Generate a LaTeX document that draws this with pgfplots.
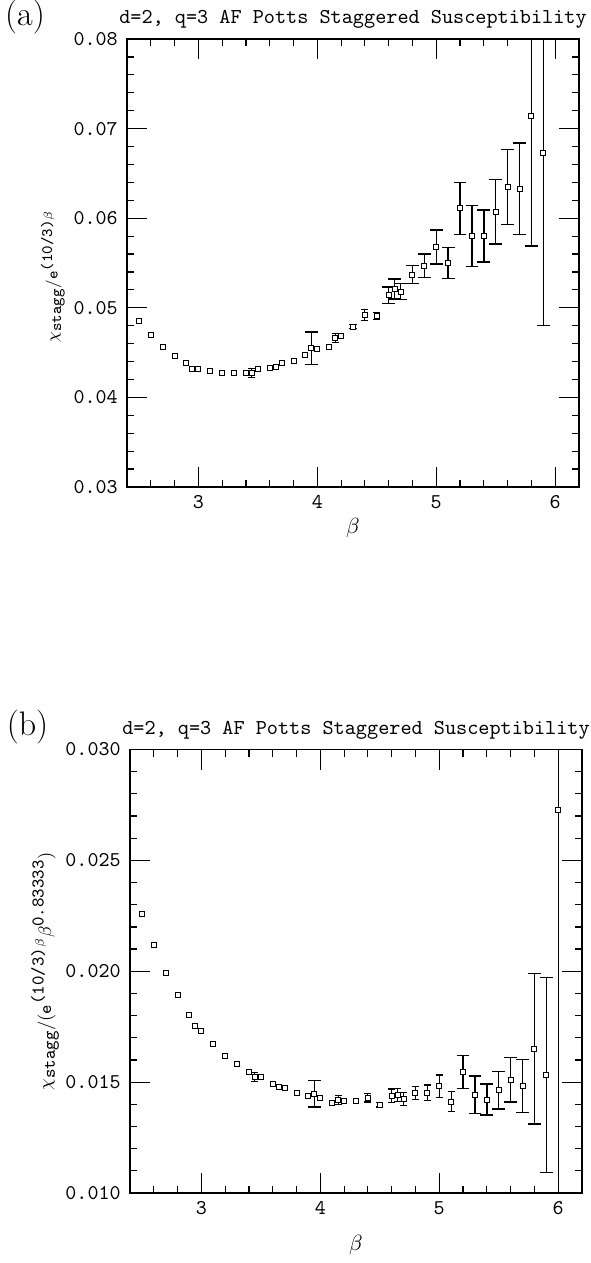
\documentclass[border=0pt]{standalone}
\usepackage{fontspec}
\usepackage{pgfplots}
\usepackage{pgfplotstable}
\pgfplotsset{compat=1.18}

% beta, chi_stagg / e^{(10/3)beta}, error
\pgfplotstableread{
b     chi     e
2.5   0.0485  0
2.6   0.0470  0
2.7   0.0456  0
2.8   0.0446  0
2.9   0.0438  0
2.95  0.0432  0
3.0   0.0432  0
3.1   0.0429  0
3.2   0.0427  0
3.3   0.0427  0
3.4   0.0427  0
3.45  0.0427  0.0005
3.5   0.0432  0
3.6   0.0433  0
3.65  0.0434  0
3.7   0.0438  0
3.8   0.0441  0
3.9   0.0447  0
3.95  0.0455  0.0018
4.0   0.0454  0
4.1   0.0456  0
4.15  0.0466  0.0005
4.2   0.0468  0
4.3   0.0479  0.0002
4.4   0.0492  0.0006
4.5   0.0491  0.0004
4.6   0.0514  0.0009
4.65  0.0521  0.0011
4.7   0.0518  0.0009
4.8   0.0537  0.0010
4.9   0.0547  0.0013
5.0   0.0568  0.0019
5.1   0.0550  0.0017
5.2   0.0611  0.0029
5.3   0.0580  0.0034
5.4   0.0580  0.0029
5.5   0.0607  0.0036
5.6   0.0635  0.0042
5.7   0.0633  0.0051
5.8   0.0714  0.0145
5.9   0.0673  0.0193
}\tabA

% beta, chi_stagg / (e^{(10/3)beta} beta^{0.83333}), error
\pgfplotstableread{
b     chi      e
2.5   0.02260  0
2.6   0.02118  0
2.7   0.01994  0
2.8   0.01894  0
2.9   0.01805  0
2.95  0.01754  0
3.0   0.01731  0
3.1   0.01672  0
3.2   0.01620  0
3.3   0.01580  0
3.4   0.01544  0
3.45  0.01523  0.0002
3.5   0.01522  0
3.6   0.01491  0
3.65  0.01476  0
3.7   0.01473  0
3.8   0.01450  0
3.9   0.01437  0
3.95  0.01448  0.0006
4.0   0.01428  0
4.1   0.01404  0
4.15  0.01420  0.0002
4.2   0.01414  0
4.3   0.01416  0
4.4   0.01430  0.0002
4.5   0.01398  0.0001
4.6   0.01439  0.0003
4.65  0.01443  0.0003
4.7   0.01425  0.0003
4.8   0.01452  0.0003
4.9   0.01452  0.00035
5.0   0.01482  0.0005
5.1   0.01412  0.00045
5.2   0.01546  0.00075
5.3   0.01443  0.00085
5.4   0.01421  0.0007
5.5   0.01464  0.00085
5.6   0.01510  0.0010
5.7   0.01483  0.0012
5.8   0.01651  0.0034
5.9   0.01532  0.0044
6.0   0.02726  0.0200
}\tabB

\pgfplotsset{
  pottsaxis/.style={
    scale only axis,
    anchor=north west,
    width=226pt,
    xmin=2.4, xmax=6.2,
    xtick={3,4,5,6}, xticklabels={3,4,5,6},
    minor xtick={2.6,2.8,3.2,3.4,3.6,3.8,4.2,4.4,4.6,4.8,5.2,5.4,5.6,5.8,6.2},
    tick align=inside, xtick pos=both, ytick pos=both,
    major tick length=10pt, minor tick length=3.5pt,
    every tick/.style={black, line width=0.6pt},
    axis line style={line width=0.7pt},
    scaled ticks=false,
    tick label style={font=\fontsize{10.5}{12}\selectfont\ttfamily},
    yticklabel style={anchor=east, inner sep=0pt, xshift=-4.5pt},
    xticklabel style={anchor=north, inner sep=0pt, yshift=-4pt},
    every axis title/.style={at={(0.5,1)}, anchor=south, inner sep=0pt, yshift=5pt,
      font=\fontsize{10.6}{13}\selectfont\ttfamily},
    title={d=2, q=3 AF Potts Staggered Susceptibility},
    xlabel={$\beta$},
  },
  errbig/.style={forget plot, mark=none, draw=none,
    error bars/.cd, y dir=both, y explicit,
    error bar style={line width=0.7pt, black},
    error mark options={rotate=90, mark size=3.2pt, line width=0.7pt, black}},
  errsmall/.style={forget plot, mark=none, draw=none,
    error bars/.cd, y dir=both, y explicit,
    error bar style={line width=0.6pt, black},
    error mark options={rotate=90, mark size=1.8pt, line width=0.6pt, black}},
  boxmarks/.style={only marks, mark=square*, mark size=1.25pt,
    mark options={line width=0.5pt, draw=black, fill=white}},
}

\begin{document}
\begin{tikzpicture}
\path[use as bounding box] (0pt,0pt) rectangle (295pt,-631.5pt);

\node[font=\fontsize{17}{20}\selectfont] at (12.5pt,-8.5pt) {(a)};
\node[font=\fontsize{17}{20}\selectfont] at (13.75pt,-363.5pt) {(b)};

% panel (a)
\begin{axis}[pottsaxis,
  at={(63.5pt,-19.5pt)}, height=224pt,
  ymin=0.03, ymax=0.08,
  ytick={0.03,0.04,0.05,0.06,0.07,0.08},
  yticklabels={0.03,0.04,0.05,0.06,0.07,0.08},
  minor ytick={0.032,0.034,0.036,0.038,0.042,0.044,0.046,0.048,0.052,0.054,0.056,0.058,0.062,0.064,0.066,0.068,0.072,0.074,0.076,0.078},
  every axis x label/.style={at={(axis description cs:0.5,0)}, anchor=center,
    yshift=-20.5pt, font=\fontsize{11}{13}\selectfont},
  every axis y label/.style={at={(axis description cs:-0.164,0.47)}, rotate=90, anchor=center,
    font=\fontsize{8}{10}\selectfont},
  ylabel={$\chi_{\texttt{stagg}}/\texttt{e}^{\texttt{(10/3)}\beta}$},
]
\addplot[errbig] table[x=b, y=chi, y error=e, restrict expr to domain={\thisrow{e}}{0.0008:1}] {\tabA};
\addplot[errsmall] table[x=b, y=chi, y error=e, restrict expr to domain={\thisrow{e}}{0.00005:0.0008}] {\tabA};
\addplot[boxmarks] table[x=b, y=chi] {\tabA};
\end{axis}

% panel (b)
\begin{axis}[pottsaxis,
  at={(65pt,-374.75pt)}, height=221.75pt,
  ymin=0.010, ymax=0.030,
  ytick={0.010,0.015,0.020,0.025,0.030},
  yticklabels={0.010,0.015,0.020,0.025,0.030},
  minor ytick={0.011,0.012,0.013,0.014,0.016,0.017,0.018,0.019,0.021,0.022,0.023,0.024,0.026,0.027,0.028,0.029},
  every axis x label/.style={at={(axis description cs:0.5,0)}, anchor=center,
    yshift=-26pt, font=\fontsize{11}{13}\selectfont},
  every axis y label/.style={at={(axis description cs:-0.188,0.5)}, rotate=90, anchor=center,
    font=\fontsize{9}{11}\selectfont},
  ylabel={$\chi_{\texttt{stagg}}/(\texttt{e}^{\texttt{(10/3)}\beta}\beta^{\texttt{0.83333}})$},
]
\addplot[errbig] table[x=b, y=chi, y error=e, restrict expr to domain={\thisrow{e}}{0.0006:1}] {\tabB};
\addplot[errsmall] table[x=b, y=chi, y error=e, restrict expr to domain={\thisrow{e}}{0.00005:0.0006}] {\tabB};
\addplot[boxmarks] table[x=b, y=chi] {\tabB};
\end{axis}
\end{tikzpicture}
\end{document}
